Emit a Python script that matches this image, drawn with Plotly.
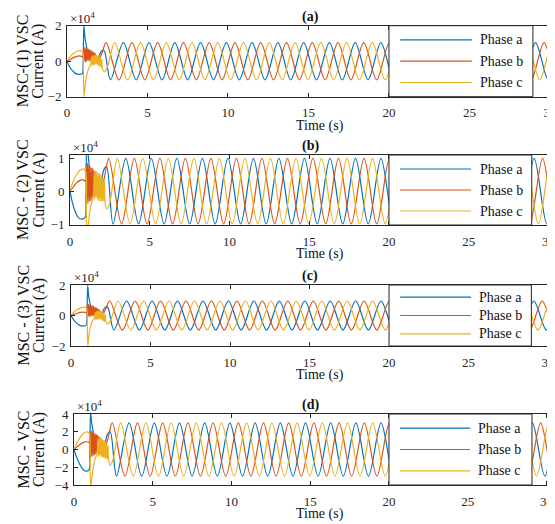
import plotly.graph_objects as go

# ---------------- data (current in units of 1e4 A) ----------------
PANEL_TITLES = ["(a)", "(b)", "(c)", "(d)"]
YLABEL_LINE1 = ["MSC-(1) VSC", "MSC - (2) VSC", "MSC - (3) VSC", "MSC - VSC"]
YLABEL_LINE2 = ["Current (A)", "Current (A)", "Current (A)", "Current (A)"]
PHASE_NAMES = ["Phase a", "Phase b", "Phase c"]
X_TICKS = [0, 5, 10, 15, 20, 25, 30]
Y_TICKS = [[-2, 0, 2], [-1, 0, 1], [-2, 0, 2], [-4, -2, 0, 2, 4]]
Y_RANGES = [[-2, 2], [-1.03, 1.1], [-2, 2], [-4, 4]]
X_RANGE_END = [30.81, 30.91, 30.94, 31.05]
LEGEND_X1 = [28.94, 28.95, 28.95, 29.08]

# time of key points (s) for each phase: start-up transient then waveform extrema
TIME_A = [0, 0.15, 0.35, 0.55, 0.75, 0.95, 1.0, 1.05, 1.12, 1.2, 1.3, 1.4,
          1.5, 1.6, 1.7, 1.8, 1.9, 2.0, 2.12, 2.3,
          2.7, 3.5, 4.3, 5.1, 5.9, 6.7, 7.5, 8.3, 9.1, 9.9, 10.7, 11.5, 12.3,
          13.1, 13.9, 14.7, 15.5, 16.3, 17.1, 17.9, 18.7, 19.5, 20.3, 21.1,
          21.9, 22.7, 23.5, 24.3, 25.1, 25.9, 26.7, 27.5, 28.3, 29.1, 29.9, 30.7,
          31.5]
TIME_B = [0, 0.2, 0.4, 0.6, 0.8, 0.98, 1.02, 1.06, 1.1, 1.14, 1.18, 1.22,
          1.26, 1.3, 1.34, 1.38, 1.42, 1.46, 1.5, 1.54, 1.58, 1.62, 1.66, 1.7,
          1.74, 1.8, 1.95, 2.15,
          2.433, 3.233, 4.033, 4.833, 5.633, 6.433, 7.233, 8.033, 8.833, 9.633,
          10.433, 11.233, 12.033, 12.833, 13.633, 14.433, 15.233, 16.033,
          16.833, 17.633, 18.433, 19.233, 20.033, 20.833, 21.633, 22.433,
          23.233, 24.033, 24.833, 25.633, 26.433, 27.233, 28.033, 28.833,
          29.633, 30.433, 31.233]
TIME_C = [0, 0.2, 0.4, 0.6, 0.8, 0.97, 1.02, 1.06, 1.15, 1.25, 1.35, 1.45,
          1.52, 1.56, 1.6, 1.64, 1.68, 1.72, 1.76, 1.8, 1.84, 1.88, 1.92, 1.96,
          2.0, 2.04, 2.08, 2.12, 2.16, 2.2, 2.3, 2.5,
          2.967, 3.767, 4.567, 5.367, 6.167, 6.967, 7.767, 8.567, 9.367,
          10.167, 10.967, 11.767, 12.567, 13.367, 14.167, 14.967, 15.767,
          16.567, 17.367, 18.167, 18.967, 19.767, 20.567, 21.367, 22.167,
          22.967, 23.767, 24.567, 25.367, 26.167, 26.967, 27.767, 28.567,
          29.367, 30.167, 30.967, 31.767]

# panel (a)
A_PHASE_A = [0, -0.3, -0.55, -0.7, -0.74, -0.7, -0.2, 2.0, 1.3, 0.9, 0.4, 0.6,
             0.15, 0.45, 0.1, 0.35, 0.05, 0.3, 0.55, 0.6,
             -1.05, 1.05, -1.05, 1.05, -1.05, 1.05, -1.05, 1.05, -1.05, 1.05,
             -1.05, 1.05, -1.05, 1.05, -1.05, 1.05, -1.05, 1.05, -1.05, 1.05,
             -1.05, 1.05, -1.05, 1.05, -1.05, 1.05, -1.05, 1.05, -1.05, 1.05,
             -1.05, 1.05, -1.05, 1.05, -1.05, 1.05, -1.05]
A_PHASE_B = [0, 0.1, 0.2, 0.27, 0.3, 0.25, 0.75, 0.0, 0.8, -0.05, 0.75, 0.0,
             0.7, 0.05, 0.7, 0.0, 0.65, 0.05, 0.6, 0.1, 0.55, 0.1, 0.5, 0.15,
             0.45, 0.2, 0.1, 0.4,
             1.05, -1.05, 1.05, -1.05, 1.05, -1.05, 1.05, -1.05, 1.05, -1.05,
             1.05, -1.05, 1.05, -1.05, 1.05, -1.05, 1.05, -1.05, 1.05, -1.05,
             1.05, -1.05, 1.05, -1.05, 1.05, -1.05, 1.05, -1.05, 1.05, -1.05,
             1.05, -1.05, 1.05, -1.05, 1.05, -1.05, 1.05]
A_PHASE_C = [0, 0.25, 0.45, 0.55, 0.6, 0.55, -0.5, -2.0, -1.2, -0.7, -0.4, -0.25,
             0.25, -0.25, 0.3, -0.2, 0.35, -0.2, 0.35, -0.15, 0.35, -0.2, 0.3,
             -0.25, 0.3, -0.3, 0.2, -0.35, 0.1, -0.4, -0.6, -0.35,
             1.05, -1.05, 1.05, -1.05, 1.05, -1.05, 1.05, -1.05, 1.05, -1.05,
             1.05, -1.05, 1.05, -1.05, 1.05, -1.05, 1.05, -1.05, 1.05, -1.05,
             1.05, -1.05, 1.05, -1.05, 1.05, -1.05, 1.05, -1.05, 1.05, -1.05,
             1.05, -1.05, 1.05, -1.05, 1.05, -1.05, 1.05]

# panel (b)
B_PHASE_A = [0, -0.35, -0.65, -0.82, -0.85, -0.8, -0.2, 1.6, 1.2, 0.8, 0.3, 0.6,
             0.1, 0.5, 0.05, 0.4, 0.1, 0.35, 0.65, 0.75,
             -1.0, 1.0, -1.0, 1.0, -1.0, 1.0, -1.0, 1.0, -1.0, 1.0,
             -1.0, 1.0, -1.0, 1.0, -1.0, 1.0, -1.0, 1.0, -1.0, 1.0,
             -1.0, 1.0, -1.0, 1.0, -1.0, 1.0, -1.0, 1.0, -1.0, 1.0,
             -1.0, 1.0, -1.0, 1.0, -1.0, 1.0, -1.0]
B_PHASE_B = [0, 0.12, 0.25, 0.32, 0.35, 0.3, 0.8, -0.4, 0.85, -0.35, 0.8, -0.3,
             0.75, -0.3, 0.7, -0.25, 0.7, -0.2, 0.65, -0.15, 0.6, -0.1, 0.5, 0.0,
             0.45, 0.2, 0.05, 0.4,
             1.0, -1.0, 1.0, -1.0, 1.0, -1.0, 1.0, -1.0, 1.0, -1.0,
             1.0, -1.0, 1.0, -1.0, 1.0, -1.0, 1.0, -1.0, 1.0, -1.0,
             1.0, -1.0, 1.0, -1.0, 1.0, -1.0, 1.0, -1.0, 1.0, -1.0,
             1.0, -1.0, 1.0, -1.0, 1.0, -1.0, 1.0]
B_PHASE_C = [0, 0.3, 0.5, 0.62, 0.68, 0.62, -0.5, -1.6, -1.0, -0.6, -0.35, -0.2,
             0.55, -0.25, 0.6, -0.2, 0.6, -0.25, 0.55, -0.3, 0.55, -0.3, 0.5,
             -0.3, 0.45, -0.3, 0.4, -0.3, 0.3, -0.35, -0.55, -0.35,
             1.0, -1.0, 1.0, -1.0, 1.0, -1.0, 1.0, -1.0, 1.0, -1.0,
             1.0, -1.0, 1.0, -1.0, 1.0, -1.0, 1.0, -1.0, 1.0, -1.0,
             1.0, -1.0, 1.0, -1.0, 1.0, -1.0, 1.0, -1.0, 1.0, -1.0,
             1.0, -1.0, 1.0, -1.0, 1.0, -1.0, 1.0]

# panel (c)
C_PHASE_A = [0, -0.25, -0.5, -0.65, -0.7, -0.65, -0.2, 2.0, 1.2, 0.8, 0.35, 0.55,
             0.1, 0.4, 0.05, 0.3, 0.0, 0.25, 0.5, 0.55,
             -0.95, 0.95, -0.95, 0.95, -0.95, 0.95, -0.95, 0.95, -0.95, 0.95,
             -0.95, 0.95, -0.95, 0.95, -0.95, 0.95, -0.95, 0.95, -0.95, 0.95,
             -0.95, 0.95, -0.95, 0.95, -0.95, 0.95, -0.95, 0.95, -0.95, 0.95,
             -0.95, 0.95, -0.95, 0.95, -0.95, 0.95, -0.95]
C_PHASE_B = [0, 0.08, 0.15, 0.2, 0.22, 0.2, 0.7, -0.05, 0.75, -0.1, 0.7, -0.05,
             0.65, 0.0, 0.65, -0.05, 0.6, 0.0, 0.55, 0.05, 0.5, 0.05, 0.45, 0.1,
             0.4, 0.15, 0.05, 0.35,
             0.95, -0.95, 0.95, -0.95, 0.95, -0.95, 0.95, -0.95, 0.95, -0.95,
             0.95, -0.95, 0.95, -0.95, 0.95, -0.95, 0.95, -0.95, 0.95, -0.95,
             0.95, -0.95, 0.95, -0.95, 0.95, -0.95, 0.95, -0.95, 0.95, -0.95,
             0.95, -0.95, 0.95, -0.95, 0.95, -0.95, 0.95]
C_PHASE_C = [0, 0.25, 0.4, 0.5, 0.55, 0.5, -0.5, -2.0, -1.1, -0.65, -0.35, -0.2,
             0.2, -0.3, 0.25, -0.25, 0.3, -0.25, 0.3, -0.2, 0.3, -0.25, 0.25,
             -0.3, 0.25, -0.35, 0.15, -0.4, 0.05, -0.45, -0.55, -0.3,
             0.95, -0.95, 0.95, -0.95, 0.95, -0.95, 0.95, -0.95, 0.95, -0.95,
             0.95, -0.95, 0.95, -0.95, 0.95, -0.95, 0.95, -0.95, 0.95, -0.95,
             0.95, -0.95, 0.95, -0.95, 0.95, -0.95, 0.95, -0.95, 0.95, -0.95,
             0.95, -0.95, 0.95, -0.95, 0.95, -0.95, 0.95]

# panel (d)
D_PHASE_A = [0, -0.8, -1.6, -2.2, -2.45, -2.3, -0.5, 4.2, 3.0, 2.2, 1.0, 1.6,
             0.4, 1.3, 0.2, 1.0, 0.3, 0.9, 1.7, 2.0,
             -3.0, 3.0, -3.0, 3.0, -3.0, 3.0, -3.0, 3.0, -3.0, 3.0,
             -3.0, 3.0, -3.0, 3.0, -3.0, 3.0, -3.0, 3.0, -3.0, 3.0,
             -3.0, 3.0, -3.0, 3.0, -3.0, 3.0, -3.0, 3.0, -3.0, 3.0,
             -3.0, 3.0, -3.0, 3.0, -3.0, 3.0, -3.0]
D_PHASE_B = [0, 0.3, 0.6, 0.8, 0.9, 0.8, 2.0, -0.9, 2.1, -0.8, 2.0, -0.7,
             1.9, -0.6, 1.8, -0.5, 1.7, -0.4, 1.6, -0.3, 1.5, -0.2, 1.3, 0.0,
             1.2, 0.5, 0.3, 1.2,
             3.0, -3.0, 3.0, -3.0, 3.0, -3.0, 3.0, -3.0, 3.0, -3.0,
             3.0, -3.0, 3.0, -3.0, 3.0, -3.0, 3.0, -3.0, 3.0, -3.0,
             3.0, -3.0, 3.0, -3.0, 3.0, -3.0, 3.0, -3.0, 3.0, -3.0,
             3.0, -3.0, 3.0, -3.0, 3.0, -3.0, 3.0]
D_PHASE_C = [0, 0.8, 1.4, 1.8, 2.0, 1.8, -1.5, -4.2, -3.0, -1.8, -1.0, -0.6,
             1.2, -0.8, 1.3, -0.7, 1.3, -0.8, 1.2, -0.9, 1.1, -0.9, 1.0, -1.0,
             0.9, -1.0, 0.7, -1.1, 0.4, -1.2, -1.8, -1.0,
             3.0, -3.0, 3.0, -3.0, 3.0, -3.0, 3.0, -3.0, 3.0, -3.0,
             3.0, -3.0, 3.0, -3.0, 3.0, -3.0, 3.0, -3.0, 3.0, -3.0,
             3.0, -3.0, 3.0, -3.0, 3.0, -3.0, 3.0, -3.0, 3.0, -3.0,
             3.0, -3.0, 3.0, -3.0, 3.0, -3.0, 3.0]

PANEL_DATA = [
    [A_PHASE_A, A_PHASE_B, A_PHASE_C],
    [B_PHASE_A, B_PHASE_B, B_PHASE_C],
    [C_PHASE_A, C_PHASE_B, C_PHASE_C],
    [D_PHASE_A, D_PHASE_B, D_PHASE_C],
]
PHASE_TIMES = [TIME_A, TIME_B, TIME_C]

# ---------------- styling / layout ----------------
W, H = 555, 524
OFF = 8  # page body margin in the browser
COLORS = ["#0072BD", "#D95319", "#EDB120"]
AX_COLOR = "#262626"
FONT = "Liberation Serif, Times New Roman, serif"

# panel geometry in window pixels: left edge of axes, top, bottom
PANEL_LEFT = [67, 70, 71, 74]
PANEL_TOP = [25.7, 155, 285, 414]
PANEL_BOTTOM = [96.7, 225, 346, 485]


def px_x(p):
    return (p - OFF) / W


def px_y(p):
    return 1 - (p - OFF) / H


fig = go.Figure()
layout = {}
shapes = []
annotations = []

for i in range(4):
    xa = "x" if i == 0 else f"x{i + 1}"
    ya = "y" if i == 0 else f"y{i + 1}"
    xkey = "xaxis" if i == 0 else f"xaxis{i + 1}"
    ykey = "yaxis" if i == 0 else f"yaxis{i + 1}"

    for k in range(3):
        fig.add_trace(go.Scatter(
            x=PHASE_TIMES[k], y=PANEL_DATA[i][k], mode="lines",
            line=dict(color=COLORS[k], width=1.2, shape="spline", smoothing=0.9),
            xaxis=xa, yaxis=ya, showlegend=False, hoverinfo="skip"))

    layout[xkey] = dict(
        domain=[px_x(PANEL_LEFT[i]), 1], range=[0, X_RANGE_END[i]],
        anchor=ya, tickvals=X_TICKS, ticks="inside", ticklen=4,
        tickcolor=AX_COLOR, showline=True, linecolor=AX_COLOR, linewidth=1,
        mirror="allticks", showgrid=False, zeroline=False, automargin=False,
        tickfont=dict(family=FONT, size=13, color=AX_COLOR),
        ticklabelstandoff=4)
    layout[ykey] = dict(
        domain=[px_y(PANEL_BOTTOM[i]), px_y(PANEL_TOP[i])],
        range=Y_RANGES[i], anchor=xa, tickvals=Y_TICKS[i], ticks="inside",
        ticklen=4, tickcolor=AX_COLOR, showline=True, linecolor=AX_COLOR,
        linewidth=1, mirror="allticks", showgrid=False, zeroline=False,
        automargin=False,
        tickfont=dict(family=FONT, size=13, color=AX_COLOR),
        ticklabelstandoff=2)

    # legend box (MATLAB style, sitting over the axes)
    shapes.append(dict(type="rect", xref=xa, yref=f"{ya} domain",
                       x0=20, x1=LEGEND_X1[i], y0=0, y1=1, layer="above",
                       fillcolor="white", line=dict(color=AX_COLOR, width=1)))
    for k, yy in enumerate([0.8, 0.5, 0.2]):
        shapes.append(dict(type="line", xref=xa, yref=f"{ya} domain",
                           x0=20.7, x1=25.15, y0=yy, y1=yy, layer="above",
                           line=dict(color=COLORS[k], width=1.2)))
        annotations.append(dict(xref=xa, yref=f"{ya} domain", x=25.55, y=yy,
                                text=PHASE_NAMES[k], showarrow=False,
                                xanchor="left", yanchor="middle",
                                font=dict(family=FONT, size=14, color="#111")))

    top = PANEL_TOP[i]
    bottom = PANEL_BOTTOM[i]
    mid = (top + bottom) / 2
    # panel title
    annotations.append(dict(xref="paper", yref="paper", x=px_x(310),
                            y=px_y(top - 9), text=f"<b>{PANEL_TITLES[i]}</b>",
                            showarrow=False, xanchor="center", yanchor="middle",
                            font=dict(family=FONT, size=14, color="#111")))
    # exponent label
    annotations.append(dict(xref="paper", yref="paper", x=px_x(PANEL_LEFT[i] + 1),
                            y=px_y(top - 8), text="×10<sup>4</sup>",
                            showarrow=False, xanchor="left", yanchor="middle",
                            font=dict(family=FONT, size=13, color=AX_COLOR)))
    # x title
    annotations.append(dict(xref="paper", yref="paper", x=px_x(320),
                            y=px_y(bottom + 29), text="Time (s)",
                            showarrow=False, xanchor="center", yanchor="middle",
                            font=dict(family=FONT, size=14, color="#111")))
    # y title (two lines)
    annotations.append(dict(xref="paper", yref="paper", x=px_x(23), y=px_y(mid),
                            text=YLABEL_LINE1[i], textangle=-90, showarrow=False,
                            xanchor="center", yanchor="middle",
                            font=dict(family=FONT, size=16, color="#111")))
    annotations.append(dict(xref="paper", yref="paper", x=px_x(38.5), y=px_y(mid),
                            text=YLABEL_LINE2[i], textangle=-90, showarrow=False,
                            xanchor="center", yanchor="middle",
                            font=dict(family=FONT, size=16, color="#111")))

fig.update_layout(
    template="none",
    width=W, height=H, margin=dict(l=0, r=0, t=0, b=0, autoexpand=False),
    paper_bgcolor="white", plot_bgcolor="white",
    font=dict(family=FONT, color="#111"),
    shapes=shapes, annotations=annotations, showlegend=False, **layout)

fig.write_html("out.html")
